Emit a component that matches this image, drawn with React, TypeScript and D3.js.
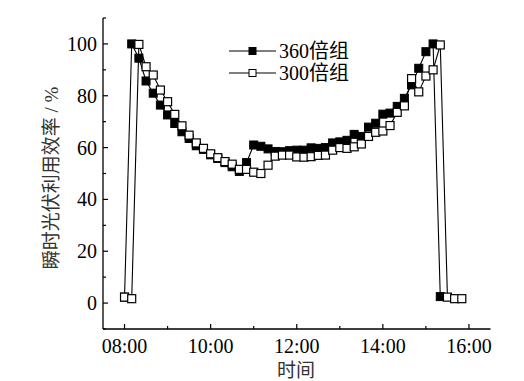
import React from "react";
import * as d3 from "d3";

const times = [
  "08:00","08:10","08:20","08:30","08:40","08:50",
  "09:00","09:10","09:20","09:30","09:40","09:50",
  "10:00","10:10","10:20","10:30","10:40","10:50",
  "11:00","11:10","11:20","11:30","11:40","11:50",
  "12:00","12:10","12:20","12:30","12:40","12:50",
  "13:00","13:10","13:20","13:30","13:40","13:50",
  "14:00","14:10","14:20","14:30","14:40","14:50",
  "15:00","15:10","15:20","15:30","15:40","15:50",
];

const values360 = [
  2.3, 100, 94.5, 85.7, 81, 76.4, 72.6, 69.3, 66.1, 63.5, 60.7, 59.3,
  57.2, 55.8, 54.2, 52.6, 50.8, 54.2, 61, 60.5, 59.5, 58.5, 58.4, 58.8,
  59, 59, 59.9, 59.7, 60, 61.8, 62.2, 62.8, 65.1, 64.3, 67.9, 69.4,
  72.9, 73.3, 75.9, 79, 84.2, 90.6, 97, 100, 2.5,
];

const values300 = [
  2.3, 1.7, 99.8, 91.2, 88, 82.2, 77.7, 72.8, 68.4, 64.8, 61.8, 59.7,
  57.6, 56.1, 54.6, 53.6, 51.6, 51.6, 50.5, 50, 53.2, 56.7, 57.1, 57.1,
  56.4, 56.3, 56.5, 57, 57.1, 59, 60, 59.7, 60.3, 61.4, 64.3, 65.9,
  66.4, 68.5, 73.6, 76.1, 86.6, 81.5, 87.6, 90, 99.6, 2.3, 1.7, 1.7,
];

const seriesNames = ["360倍组", "300倍组"];
const xTickLabels = ["08:00", "10:00", "12:00", "14:00", "16:00"];
const xMinorLabels = ["09:00", "11:00", "13:00", "15:00"];
const yTicks = [0, 20, 40, 60, 80, 100];
const yMinor = [-10, 10, 30, 50, 70, 90, 110];

const toHours = (s: string) => {
  const [h, m] = s.split(":").map(Number);
  return h + m / 60;
};

const W = 524;
const H = 381;
const left = 103;
const right = 490.5;
const top = 18;
const bottom = 329;

const serif = "'Liberation Serif', 'Times New Roman', serif";
const cjk = "'Liberation Serif', 'Noto Sans CJK SC', serif";

export default function App() {
  const x = d3.scaleLinear().domain([7.5, 16.5]).range([left, right]);
  const y = d3.scaleLinear().domain([-10, 110]).range([bottom, top]);

  const line = d3
    .line<[number, number]>()
    .x((d) => x(d[0]))
    .y((d) => y(d[1]));

  const d360: [number, number][] = values360.map((v, i) => [toHours(times[i]), v]);
  const d300: [number, number][] = values300.map((v, i) => [toHours(times[i]), v]);

  const ms = 8;

  return (
    <svg
      width={W}
      height={H}
      style={{ position: "absolute", left: 0, top: 0, background: "#fff" }}
    >
      <rect x={0} y={0} width={W} height={H} fill="#fff" />
      {/* axes */}
      <line x1={left} x2={left} y1={top} y2={bottom} stroke="#000" strokeWidth={1.3} />
      <line x1={left} x2={right} y1={bottom} y2={bottom} stroke="#000" strokeWidth={1.3} />
      {xTickLabels.map((t) => (
        <g key={t}>
          <line x1={x(toHours(t))} x2={x(toHours(t))} y1={bottom} y2={bottom - 5} stroke="#000" strokeWidth={1.2} />
          <text x={x(toHours(t))} y={353} textAnchor="middle" fontFamily={serif} fontSize={20} fill="#000">
            {t}
          </text>
        </g>
      ))}
      {xMinorLabels.map((t) => (
        <line key={t} x1={x(toHours(t))} x2={x(toHours(t))} y1={bottom} y2={bottom - 3} stroke="#000" strokeWidth={1.2} />
      ))}
      {yTicks.map((v) => (
        <g key={v}>
          <line x1={left} x2={left + 5} y1={y(v)} y2={y(v)} stroke="#000" strokeWidth={1.2} />
          <text x={97} y={y(v) + 7} textAnchor="end" fontFamily={serif} fontSize={20} fill="#000">
            {v}
          </text>
        </g>
      ))}
      {yMinor.map((v) => (
        <line key={v} x1={left} x2={left + 3} y1={y(v)} y2={y(v)} stroke="#000" strokeWidth={1.2} />
      ))}
      <text
        transform={`translate(58, 178) rotate(-90)`}
        textAnchor="middle"
        fontFamily={cjk}
        fontSize={19}
        fill="#333"
      >
        瞬时光伏利用效率 / %
      </text>
      <text x={296} y={377} textAnchor="middle" fontFamily={cjk} fontSize={19} fill="#333">
        时间
      </text>

      {/* series 360 */}
      <path d={line(d360) ?? ""} fill="none" stroke="#000" strokeWidth={1.1} />
      {d360.map((d, i) => (
        <rect key={"a" + i} x={x(d[0]) - ms / 2} y={y(d[1]) - ms / 2} width={ms} height={ms} fill="#000" stroke="#000" strokeWidth={1} />
      ))}
      {/* series 300 */}
      <path d={line(d300) ?? ""} fill="none" stroke="#000" strokeWidth={1.1} />
      {d300.map((d, i) => (
        <rect key={"b" + i} x={x(d[0]) - ms / 2} y={y(d[1]) - ms / 2} width={ms} height={ms} fill="#fff" stroke="#000" strokeWidth={1.2} />
      ))}

      {/* legend */}
      {seriesNames.map((name, i) => {
        const ly = 51 + i * 22;
        return (
          <g key={name}>
            <line x1={229} x2={276} y1={ly} y2={ly} stroke="#000" strokeWidth={1.1} />
            <rect x={249} y={ly - 3.5} width={7} height={7} fill={i === 0 ? "#000" : "#fff"} stroke="#000" strokeWidth={1} />
            <text x={279} y={ly + 7} fontFamily={cjk} fontSize={20} fill="#000">
              {name}
            </text>
          </g>
        );
      })}
    </svg>
  );
}
